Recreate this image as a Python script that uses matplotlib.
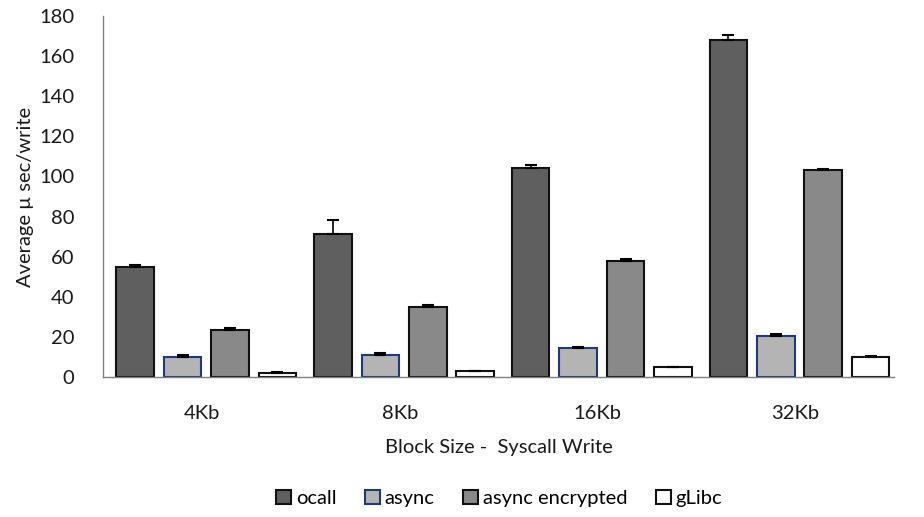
import numpy as np
import matplotlib.pyplot as plt

plt.rcParams['font.family'] = ['Lato', 'DejaVu Sans']

block_sizes = ['4Kb', '8Kb', '16Kb', '32Kb']
series = ['ocall', 'async', 'async encrypted', 'gLibc']
ocall = [55, 71.5, 104, 168]
ocall_err = [1, 7, 1.8, 2.5]
async_ = [10.3, 11.2, 14.5, 20.5]
async_err = [0.6, 1, 0.6, 1]
async_enc = [23.8, 35, 57.7, 103]
async_enc_err = [0.6, 1.2, 1, 0.6]
glibc = [2.2, 3, 5, 10.2]
glibc_err = [0.5, 0.4, 0.4, 0.5]

values = [ocall, async_, async_enc, glibc]
errors = [ocall_err, async_err, async_enc_err, glibc_err]
fills = ['#5f5f5f', '#b4b4b4', '#898989', '#ffffff']
edges = ['#111111', '#1f3a78', '#111111', '#111111']

fig, ax = plt.subplots(figsize=(9.24, 5.17), dpi=100)
fig.subplots_adjust(left=0.112, right=0.968, top=0.97, bottom=0.27)

x = np.arange(len(block_sizes))
w = 0.19
step = 0.24
for k in range(4):
    ax.bar(x + (k - 1.5) * step + 0.02, values[k], w, color=fills[k], edgecolor=edges[k],
           linewidth=1.5, label=series[k], yerr=[np.zeros(4), errors[k]],
           error_kw=dict(ecolor='black', elinewidth=1.2, capsize=4, capthick=1.5))

ax.set_xlim(-0.5, 3.5)
ax.set_ylim(0, 180)
ax.set_yticks(range(0, 181, 20))
ax.set_xticks(x)
ax.set_xticklabels(block_sizes)
ax.tick_params(axis='both', length=0, labelsize=14.5, colors='#1a1a1a')
ax.tick_params(axis='x', pad=20)
ax.tick_params(axis='y', pad=21)
for s in ['top', 'right']:
    ax.spines[s].set_visible(False)
for s in ['left', 'bottom']:
    ax.spines[s].set_color('#808080')
    ax.spines[s].set_linewidth(1)

ax.set_xlabel('Block Size -  Syscall Write', fontsize=14.5, color='#1a1a1a', labelpad=12)
ax.set_ylabel('Average µ sec/write', fontsize=14.5, color='#1a1a1a', labelpad=4)

ax.legend(loc='upper center', bbox_to_anchor=(0.5, -0.26), ncol=4, frameon=False,
          fontsize=14.5, handlelength=0.75, handleheight=0.75, handletextpad=0.25,
          columnspacing=1.4)

plt.savefig('out.png', dpi=100)
